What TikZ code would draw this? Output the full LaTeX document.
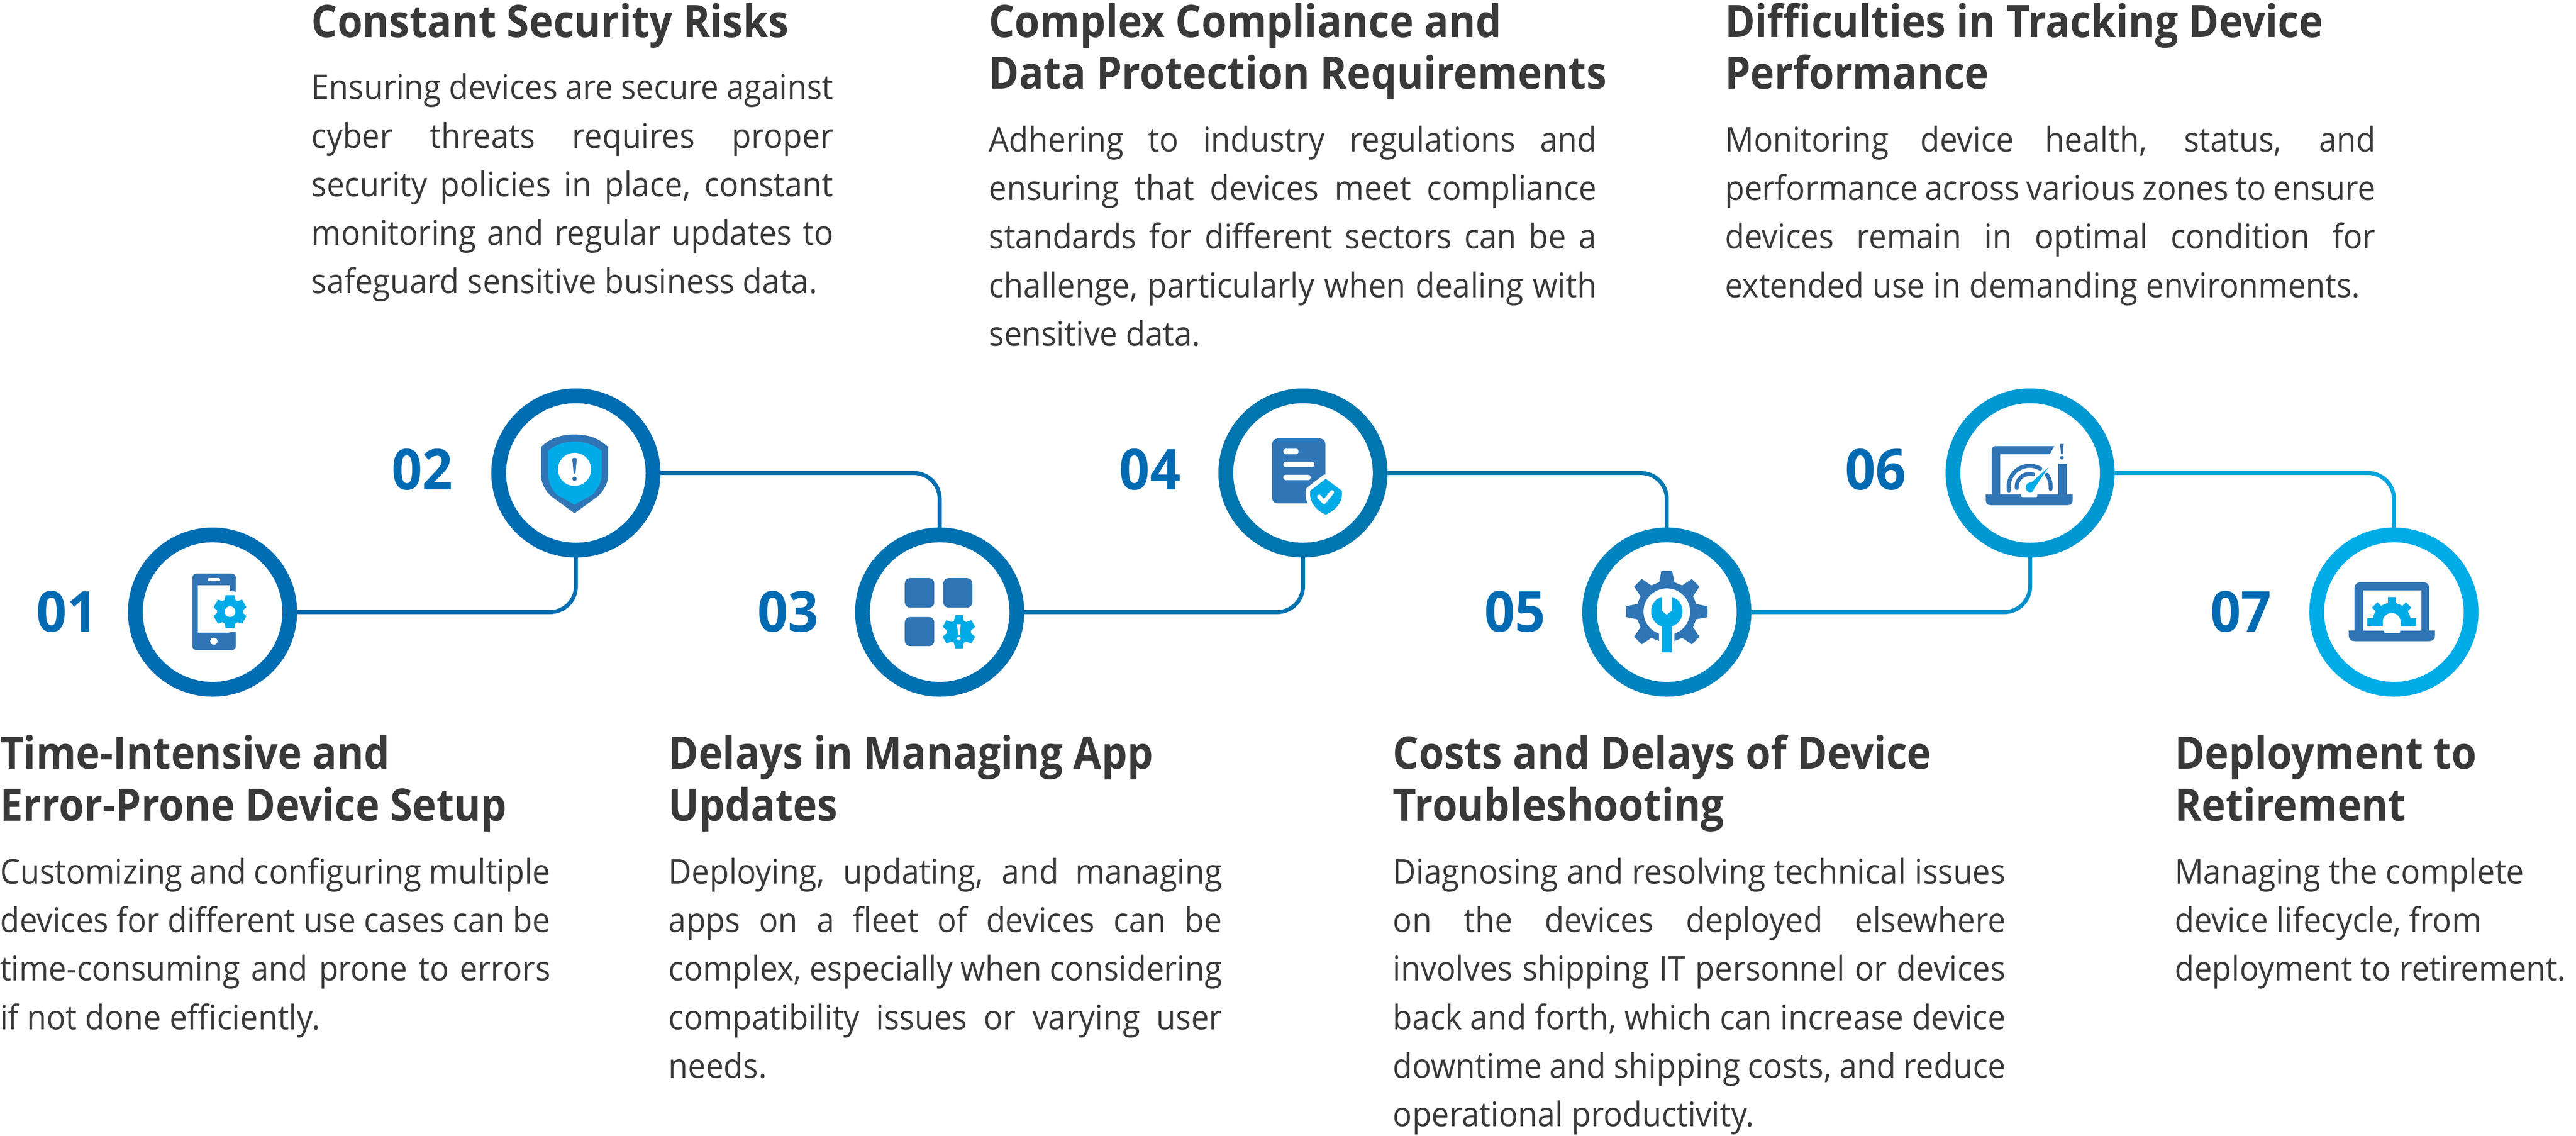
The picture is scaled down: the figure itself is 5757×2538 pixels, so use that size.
\documentclass[tikz,border=0pt]{standalone}
\usepackage{fontspec}
\setmainfont{Open Sans}
\newfontfamily\bodyfam{Open Sans}[FakeStretch=0.935]
\newfontfamily\headfam{Open Sans}[FakeStretch=0.91]
\newfontfamily\numfam{Open Sans}[FakeStretch=0.95]
\definecolor{ink}{HTML}{393939}
\definecolor{num}{HTML}{006BB2}
\definecolor{idark}{HTML}{2F75B5}
\definecolor{ilight}{HTML}{00ABE8}
\definecolor{r1}{HTML}{006DB3}
\definecolor{r2}{HTML}{006DB2}
\definecolor{r3}{HTML}{0071B0}
\definecolor{r4}{HTML}{0075AE}
\definecolor{r5}{HTML}{0084BF}
\definecolor{r6}{HTML}{0098D3}
\definecolor{r7}{HTML}{00ACE8}
\definecolor{l1}{HTML}{006DB3}
\definecolor{l2}{HTML}{006FB1}
\definecolor{l3}{HTML}{0072AF}
\definecolor{l4}{HTML}{0078B0}
\definecolor{l5}{HTML}{0090CB}
\definecolor{l6}{HTML}{00A4DE}
\newcommand\bodyf{\bodyfam\fontsize{76}{108.5}\selectfont}
\newcommand\headf{\headfam\fontsize{100}{116}\selectfont\bfseries}
\newcommand\jl[1]{\hbox to\hsize{#1}}
\newcommand\nl[1]{\hbox{#1}}
\newcommand\blk[2]{\vtop{\hsize=#1pt #2}}
\tikzset{
  txt/.style={inner sep=0pt,anchor=base west,text=ink},
  ring/.style={circle,draw=#1,fill=white,line width=33pt,minimum size=345pt,inner sep=0pt},
  numtxt/.style={inner sep=0pt,anchor=base,text=num,font=\numfam\fontsize{126}{126}\selectfont\bfseries},
  link/.style={draw=#1,line width=9pt,rounded corners=58pt},
  gt/.style={line width=9pt,draw=idark,line cap=round},
}
% gear polygon: colour, r out, r root, teeth, half angle top, half angle base, rotation
\newcommand\gearfill[7]{%
  \pgfmathsetmacro\gstep{360/#4}%
  \pgfmathtruncatemacro\glast{#4-1}%
  \fill[#1] ({#7-#6}:#3)
  \foreach \gi in {0,...,\glast}{
    -- ({#7+\gi*\gstep-#6}:#3) -- ({#7+\gi*\gstep-#5}:#2) -- ({#7+\gi*\gstep+#5}:#2) -- ({#7+\gi*\gstep+#6}:#3)
  } -- cycle;}
\begin{document}
\begin{tikzpicture}[x=1pt,y=-1pt]
\useasboundingbox[fill=white] (0,0) rectangle (5757,2538);

% rings
\node[ring=r1] (c1) at (475,1368) {};
\node[ring=r2] (c2) at (1287,1057) {};
\node[ring=r3] (c3) at (2100,1368) {};
\node[ring=r4] (c4) at (2912,1057) {};
\node[ring=r5] (c5) at (3725,1368) {};
\node[ring=r6] (c6) at (4537,1057) {};
\node[ring=r7] (c7) at (5350,1368) {};

% connectors
\draw[link=l1] (c1.east) -| (c2.south);
\draw[link=l2] (c2.east) -| (c3.north);
\draw[link=l3] (c3.east) -| (c4.south);
\draw[link=l4] (c4.east) -| (c5.north);
\draw[link=l5] (c5.east) -| (c6.south);
\draw[link=l6] (c6.east) -| (c7.north);

% numbers
\node[numtxt] (n1) at (150,1412) {01};
\node[numtxt] (n2) at (944,1094) {02};
\node[numtxt] (n3) at (1761,1412) {03};
\node[numtxt] (n4) at (2570,1094) {04};
\node[numtxt] (n5) at (3386,1412) {05};
\node[numtxt] (n6) at (4192,1094) {06};
\node[numtxt] (n7) at (5008,1412) {07};

% icon 1: phone with gear
\fill[idark,rounded corners=9pt] (430,1282) rectangle (527,1453);
\fill[white] (442,1308) rectangle (514,1414);
\fill[white,rounded corners=3pt] (464,1292) rectangle (492,1299);
\fill[white] (478,1433) circle[radius=8];
\fill[white] (514,1367) circle[radius=46];
\begin{scope}[shift={(514,1367)}]
\gearfill{ilight}{38}{29}{6}{15}{24}{90}
\fill[white] (0,0) circle[radius=12];
\end{scope}

% icon 2: shield
\fill[idark] (1284,971) .. controls (1250,971) and (1228,981) .. (1209,999) -- (1209,1060)
  .. controls (1209,1080) and (1218,1096) .. (1233,1110) -- (1284,1147) -- (1335,1110)
  .. controls (1350,1096) and (1359,1080) .. (1359,1060) -- (1359,999)
  .. controls (1340,981) and (1318,971) .. (1284,971) -- cycle;
\fill[ilight] (1284,987) .. controls (1258,987) and (1240,995) .. (1225,1008) -- (1225,1060)
  .. controls (1225,1078) and (1233,1094) .. (1245,1106) -- (1284,1128) -- (1323,1106)
  .. controls (1335,1094) and (1345,1078) .. (1345,1060) -- (1345,1008)
  .. controls (1328,995) and (1310,987) .. (1284,987) -- cycle;
\fill[white] (1284,1049) circle[radius=37];
\fill[idark] (1279,1026) .. controls (1279,1022) and (1289,1022) .. (1289,1026) -- (1286,1058) -- (1282,1058) -- cycle;
\fill[idark] (1284,1070) circle[radius=5];

% icon 3: app tiles
\fill[idark,rounded corners=12pt] (2022,1292) rectangle (2088,1358);
\fill[idark,rounded corners=12pt] (2108,1292) rectangle (2173,1358);
\fill[idark,rounded corners=12pt] (2022,1379) rectangle (2088,1444);
\begin{scope}[shift={(2143,1412)}]
\gearfill{ilight}{38}{27}{6}{13}{24}{90}
\fill[white] (-4,-17) -- (4,-17) -- (2,7) -- (-2,7) -- cycle;
\fill[white] (0,15) circle[radius=4];
\end{scope}

% icon 4: document with shield
\fill[idark,rounded corners=12pt] (2843,980) rectangle (2962,1125);
\fill[white,rounded corners=5pt] (2868,1003) rectangle (2902,1015);
\fill[white,rounded corners=5pt] (2868,1032) rectangle (2937,1044);
\fill[white,rounded corners=5pt] (2868,1061) rectangle (2929,1073);
\path[fill=white,draw=white,line width=20pt,line join=round]
  (2963,1070) -- (2999,1097) -- (2999,1108) .. controls (2997,1128) and (2980,1143) .. (2963,1150)
  .. controls (2946,1143) and (2930,1128) .. (2928,1108) -- (2928,1097) -- cycle;
\fill[ilight]
  (2963,1070) -- (2999,1097) -- (2999,1108) .. controls (2997,1128) and (2980,1143) .. (2963,1150)
  .. controls (2946,1143) and (2930,1128) .. (2928,1108) -- (2928,1097) -- cycle;
\draw[white,line width=9pt,line cap=round,line join=round] (2948,1110) -- (2959,1122) -- (2977,1100);

% icon 5: gear with wrench
\begin{scope}[shift={(3725,1367)}]
\gearfill{idark}{92}{68}{8}{7.5}{14.5}{90}
\fill[white] (0,0) circle[radius=52];
\fill[white] (-17,33) rectangle (17,95);
\fill[ilight] (-11,-33) .. controls (-27,-28) and (-35,-16) .. (-35,0)
  .. controls (-35,15) and (-26,28) .. (-11,33) -- (-11,91) -- (11,91) -- (11,33)
  .. controls (26,28) and (35,15) .. (35,0) .. controls (35,-16) and (27,-28) .. (11,-33)
  -- (11,-2) -- (0,7) -- (-11,-2) -- cycle;
\end{scope}

% icon 6: laptop with gauge
\fill[idark] (4451,1110) -- (4451,1007) .. controls (4451,1000) and (4455,997) .. (4461,997) -- (4591,997) -- (4581,1015) -- (4470,1015) -- (4470,1110) -- cycle;
\fill[idark] (4600,1036) rectangle (4619,1110);
\fill[idark] (4438,1105) -- (4438,1118) .. controls (4438,1125) and (4442,1129) .. (4449,1129) -- (4621,1129) .. controls (4628,1129) and (4632,1125) .. (4632,1118) -- (4632,1105) -- cycle;
\fill[white,rounded corners=3pt] (4517,1100) rectangle (4553,1111);
\draw[gt] (4536,1088) ++(170:47) arc[start angle=170,end angle=300,radius=47];
\draw[gt] (4536,1088) ++(325:47) arc[start angle=325,end angle=366,radius=47];
\draw[gt] (4536,1088) ++(175:29) arc[start angle=175,end angle=285,radius=29];
\fill[idark] (4604,992) -- (4612,992) -- (4610,1015) -- (4606,1015) -- cycle;
\fill[idark] (4608,1023) circle[radius=4];
\draw[white,line width=6pt] (4578,1044) -- (4536,1090);
\fill[ilight] (4578,1044) -- (4546,1092) .. controls (4544,1104) and (4528,1102) .. (4527,1090) .. controls (4527,1082) and (4534,1077) .. (4540,1078) -- cycle;

% icon 7: laptop with gear
\fill[idark] (5262,1415) -- (5262,1315) .. controls (5262,1306) and (5267,1301) .. (5276,1301) -- (5415,1301) .. controls (5424,1301) and (5429,1306) .. (5429,1315) -- (5429,1415) -- cycle;
\fill[idark] (5249,1409) -- (5249,1419) .. controls (5249,1428) and (5254,1433) .. (5263,1433) -- (5428,1433) .. controls (5437,1433) and (5442,1428) .. (5442,1419) -- (5442,1409) -- cycle;
\fill[white] (5281,1320) rectangle (5411,1409);
\fill[white,rounded corners=3pt] (5328,1400) rectangle (5364,1415);
\begin{scope}
\clip (5285,1325) rectangle (5405,1399);
\fill[ilight] (5345,1390) circle[radius=43];
\draw[ilight,line width=17pt] (5345,1390) -- (5345,1335);
\draw[ilight,line width=17pt] (5345,1390) -- (5307,1352);
\draw[ilight,line width=17pt] (5345,1390) -- (5383,1352);
\draw[ilight,line width=17pt] (5291,1390.5) -- (5400,1390.5);
\fill[white] (5345,1390) circle[radius=20];
\fill[white] (5325,1390) rectangle (5365,1400);
\end{scope}

% headings
\node[txt] (h1) at (0,1719) {\blk{1300}{\headf\nl{Time-Intensive and}\nl{Error-Prone Device Setup}}};
\node[txt] (h2) at (696,83) {\blk{1300}{\headf\nl{Constant Security Risks}}};
\node[txt] (h3) at (1494,1719) {\blk{1300}{\headf\nl{Delays in Managing App}\nl{Updates}}};
\node[txt] (h4) at (2210,83) {\blk{1500}{\headf\nl{Complex Compliance and}\nl{Data Protection Requirements}}};
\node[txt] (h5) at (3113,1719) {\blk{1400}{\headf\nl{Costs and Delays of Device}\nl{Troubleshooting}}};
\node[txt] (h6) at (3855,83) {\blk{1500}{\headf\nl{Difficulties in Tracking Device}\nl{Performance}}};
\node[txt] (h7) at (4860,1719) {\blk{880}{\headf\nl{Deployment to}\nl{Retirement}}};

% body text
\node[txt] (b1) at (0,1975) {\blk{1230}{\bodyf
 \jl{Customizing and configuring multiple}
 \jl{devices for different use cases can be}
 \jl{time-consuming and prone to errors}
 \nl{if not done efficiently.}}};
\node[txt] (b2) at (696,222) {\blk{1166}{\bodyf
 \jl{Ensuring devices are secure against}
 \jl{cyber threats requires proper}
 \jl{security policies in place, constant}
 \jl{monitoring and regular updates to}
 \nl{safeguard sensitive business data.}}};
\node[txt] (b3) at (1494,1975) {\blk{1237}{\bodyf
 \jl{Deploying, updating, and managing}
 \jl{apps on a fleet of devices can be}
 \jl{complex, especially when considering}
 \jl{compatibility issues or varying user}
 \nl{needs.}}};
\node[txt] (b4) at (2210,339) {\blk{1358}{\bodyf
 \jl{Adhering to industry regulations and}
 \jl{ensuring that devices meet compliance}
 \jl{standards for different sectors can be a}
 \jl{challenge, particularly when dealing with}
 \nl{sensitive data.}}};
\node[txt] (b5) at (3113,1975) {\blk{1369}{\bodyf
 \jl{Diagnosing and resolving technical issues}
 \jl{on the devices deployed elsewhere}
 \jl{involves shipping IT personnel or devices}
 \jl{back and forth, which can increase device}
 \jl{downtime and shipping costs, and reduce}
 \nl{operational productivity.}}};
\node[txt] (b6) at (3855,339) {\blk{1454}{\bodyf
 \jl{Monitoring device health, status, and}
 \jl{performance across various zones to ensure}
 \jl{devices remain in optimal condition for}
 \nl{extended use in demanding environments.}}};
\node[txt] (b7) at (4860,1975) {\blk{880}{\bodyf
 \nl{Managing the complete}
 \nl{device lifecycle, from}
 \nl{deployment to retirement.}}};
\end{tikzpicture}
\end{document}
